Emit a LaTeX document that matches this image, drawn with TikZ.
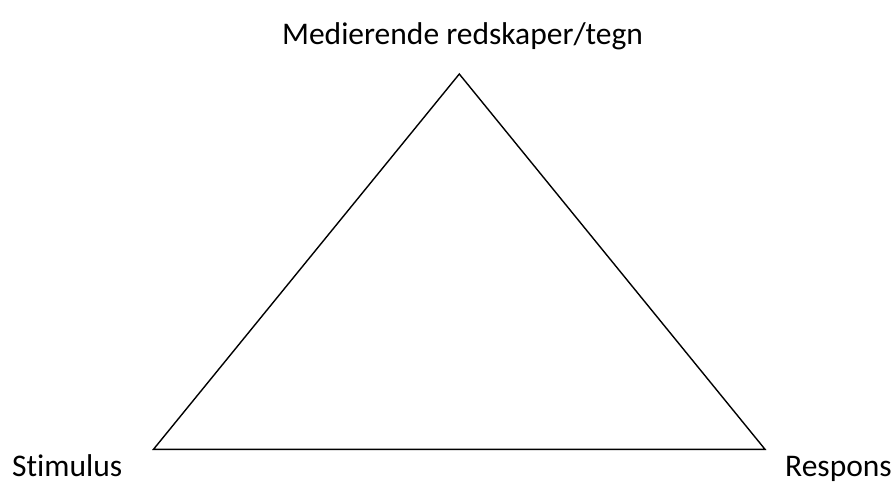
\documentclass[tikz,border=0pt]{standalone}
\usepackage{fontspec}
\setmainfont[Ligatures=NoCommon]{Carlito}
\begin{document}
\begin{tikzpicture}[x=1pt,y=-1pt,
  lbl/.style={inner sep=0pt,font=\fontsize{31.5}{36}\selectfont},
  edge/.style={line width=1.4pt,line join=miter}]
\useasboundingbox (0,0) rectangle (895,483);
\coordinate (apex) at (459.3,74);
\coordinate (bl) at (153.5,449.3);
\coordinate (br) at (765,449.3);
\draw[edge] (apex) -- (bl) -- (br) -- cycle;
\node[lbl,anchor=base] (top) at (462.5,44) {Medierende redskaper/tegn};
\node[lbl,anchor=base west] (stim) at (12,476) {Stimulus};
\node[lbl,anchor=base east] (resp) at (892,476) {Respons};
\end{tikzpicture}
\end{document}
